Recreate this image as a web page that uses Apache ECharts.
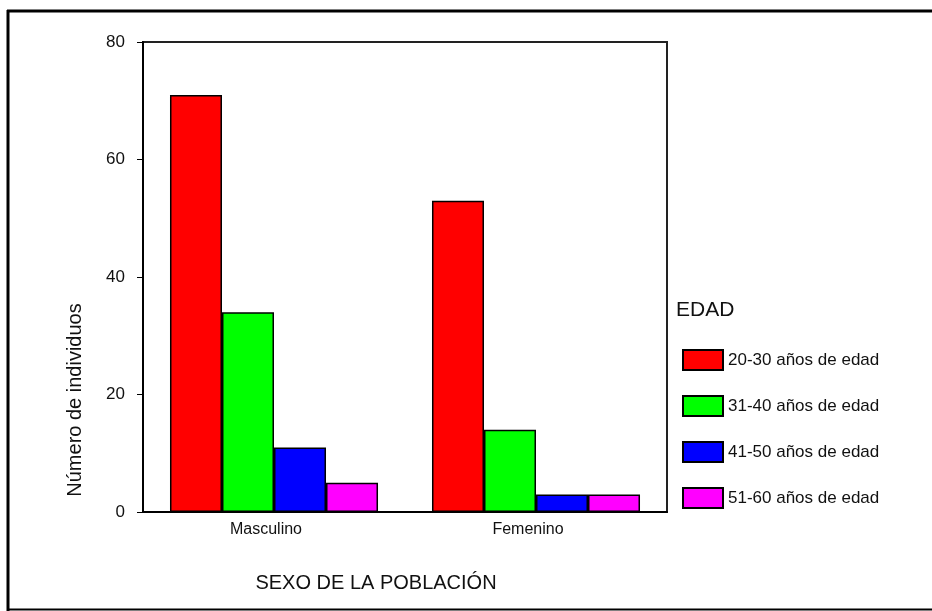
<!DOCTYPE html>
<html>
<head>
<meta charset="utf-8">
<script src="https://cdn.jsdelivr.net/npm/echarts@6/dist/echarts.min.js"></script>
<style>
  html, body { margin: 0; padding: 0; background: #fff; }
  #chart { width: 932px; height: 611px; }
</style>
</head>
<body>
<div id="chart"></div>
<script>
// categorias y valores
var categories = ['Masculino', 'Femenino'];
var ageGroups = ['20-30 años de edad', '31-40 años de edad', '41-50 años de edad', '51-60 años de edad'];
var edad2030 = [71, 53];
var edad3140 = [34, 14];
var edad4150 = [11, 3];
var edad5160 = [5, 3];
var colors = ['#ff0000', '#00ff00', '#0000ff', '#ff00ff'];
var yTicks = [0, 20, 40, 60, 80];

var font = '"Liberation Sans", Arial, sans-serif';
var seriesData = [edad2030, edad3140, edad4150, edad5160];

var series = ageGroups.map(function (name, i) {
  return {
    name: name,
    type: 'bar',
    barGap: 0,
    barCategoryGap: '20.6%',
    itemStyle: {
      color: colors[i],
      borderColor: '#000',
      borderWidth: 1.5
    },
    data: seriesData[i]
  };
});

var myChart = echarts.init(document.getElementById('chart'));
var option = {
  animation: false,
  backgroundColor: '#fff',
  grid: {
    left: 143,
    top: 42,
    right: 265,
    bottom: 99,
    show: true,
    borderColor: '#222',
    borderWidth: 2
  },
  legend: {
    orient: 'vertical',
    left: 677,
    top: 344,
    itemWidth: 40,
    itemHeight: 20,
    itemGap: 24,
    icon: 'rect',
    textStyle: { fontFamily: font, fontSize: 17, color: '#111' },
    data: ageGroups
  },
  xAxis: {
    type: 'category',
    data: categories,
    axisLine: { lineStyle: { color: '#000', width: 2 } },
    axisTick: { alignWithLabel: true, length: 5, lineStyle: { color: '#000' } },
    axisLabel: { fontFamily: font, fontSize: 16, color: '#111', margin: 10, padding: [0, 16, 0, 0] }
  },
  yAxis: {
    type: 'value',
    min: yTicks[0],
    max: yTicks[yTicks.length - 1],
    interval: 20,
    axisLine: { show: true, lineStyle: { color: '#000', width: 2 } },
    axisTick: { show: true, length: 6, lineStyle: { color: '#000' } },
    splitLine: { show: false },
    axisLabel: { fontFamily: font, fontSize: 17, color: '#111', margin: 18 }
  },
  graphic: [
    { type: 'line', shape: { x1: 7, y1: 11, x2: 932, y2: 11 }, style: { stroke: '#000', lineWidth: 3 } },
    { type: 'line', shape: { x1: 8, y1: 10, x2: 8, y2: 611 }, style: { stroke: '#000', lineWidth: 3 } },
    { type: 'line', shape: { x1: 7, y1: 609.5, x2: 932, y2: 609.5 }, style: { stroke: '#000', lineWidth: 2 } },
    {
      type: 'text', left: 676, top: 300,
      style: { text: 'EDAD', fontFamily: font, fontSize: 21, fill: '#111' }
    },
    {
      type: 'text', x: 75, y: 400, rotation: Math.PI / 2,
      style: { text: 'Número de individuos', fontFamily: font, fontSize: 20, fill: '#111', align: 'center', verticalAlign: 'middle' }
    },
    {
      type: 'text', x: 376, y: 583,
      style: { text: 'SEXO DE LA POBLACIÓN', fontFamily: font, fontSize: 20, fill: '#111', align: 'center', verticalAlign: 'middle' }
    }
  ],
  series: series
};
myChart.setOption(option);
</script>
</body>
</html>
